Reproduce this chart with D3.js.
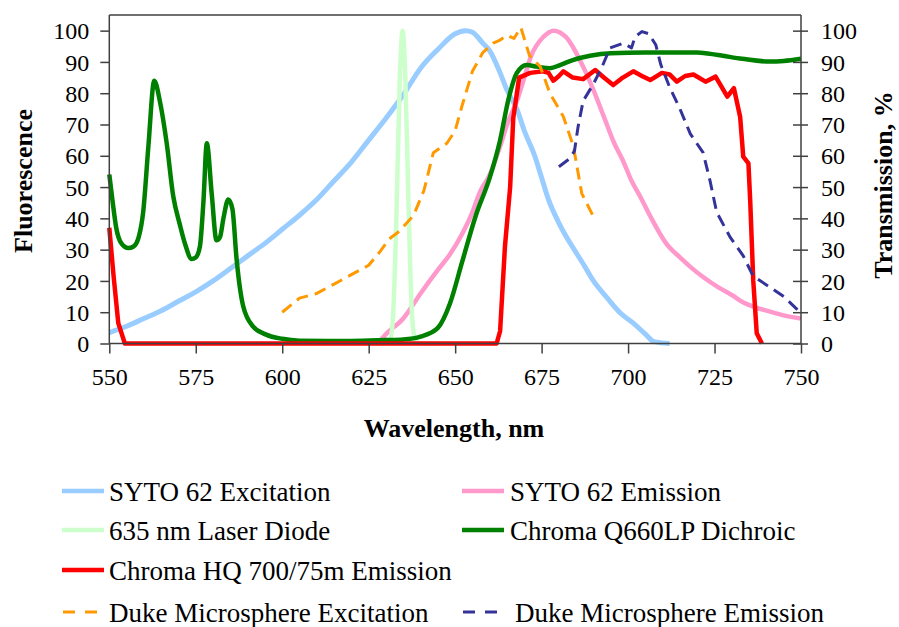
<!DOCTYPE html>
<html>
<head>
<meta charset="utf-8">
<script src="https://cdn.jsdelivr.net/npm/d3@7"></script>
<style>
  html, body { margin: 0; padding: 0; background: #fff; }
  svg { display: block; font-family: "Liberation Serif", "Times New Roman", serif; }
</style>
</head>
<body>
<svg id="chart" width="899" height="627"></svg>
<script>
// Wavelength (nm) / value (%) pairs for each spectrum
const sytoExcitation = [
  [550,3.5],[555,5.5],[560,8],[565,10.5],[570,13.5],[575,16.5],[580,20],[585,24],[590,28],
  [595,32],[600,36.5],[605,41],[610,46],[615,52],[620,58],[625,65],[630,72],[635,79.5],
  [640,88],[645,94],[650,99],[653,100],[655,99.5],[658,96],[660,93.5],[663,86.5],[665,81],
  [668,74.5],[670,68],[673,60],[675,53],[677,46],[680,38.5],[685,29],[687,25.5],[690,20],
  [694,14.5],[698,9.5],[701.5,6.5],[705,3],[707.5,0.6],[712,0]
];
const sytoEmission = [
  [628,0.5],[630,3],[635,8],[640,16],[645,23.5],[648.5,28.5],[652,35],[655,42],[657,48],
  [660,54],[663,63],[665,70],[668,78],[670,85],[672,92],[675.5,98],[678.5,100],[682,98],
  [687,88.5],[690,81],[693,72.5],[696,64],[698.5,58.5],[701,52],[703.5,47],[706.5,40.5],
  [711,32],[715,27.5],[718,24.5],[722,21],[726,18],[730,15.5],[733.5,13],[737,11.5],
  [741,10.2],[745,9],[750,8]
];
const laserDiode = [
  [625,0],[630,0],[631,0.5],[632,8],[633,40],[634,85],[634.8,100],[635.6,85],[636.5,45],
  [637.5,10],[638.5,1],[640,0],[645,0]
];
const dichroic = [
  [550,54],[551,45],[552,37],[553.5,32],[555.5,30.5],[557,31],[558.5,34],[559.8,42],
  [561.3,63],[563,84],[564.7,77],[566.6,64],[568.5,47],[570.4,38],[572,31.5],[573.8,27],
  [575,27.5],[576.2,31],[577.2,45],[578.2,64],[579.6,48],[581,33],[582,34],[583,40],
  [584.4,46],[585.6,43],[586.8,27],[588.7,12],[591.6,5.4],[595,3],[600,1.5],[605,0.9],
  [620,0.8],[630,1.1],[635,1.3],[640,2.2],[645,5],[648.5,12.8],[652,26],[656,41],
  [660,53],[663,65],[665.4,78],[667.8,86.4],[670.7,89],[673.6,88.5],[677.4,88],[680.3,89],
  [684,90.6],[689,92],[695,92.8],[705,93],[720,93],[726,92.2],[733,91],[741,90.1],
  [745,90.3],[750,91]
];
const emissionFilter = [
  [550,37],[551.2,22],[552.6,6.5],[554.5,0],[600,0],[650,0],[662,0],[663,4],[664.4,31],
  [665.9,50],[666.8,72],[668.5,85],[671.7,86.5],[675.5,87],[677,86.5],[678.4,84],
  [680,85.5],[681.3,87],[684,85],[687,84.5],[690.5,87.4],[693,85],[695.7,82.6],[698.5,85],
  [701.5,87],[704,85.5],[706.4,84.2],[709.8,86.5],[712,86],[714.1,83.7],[716.5,85.5],
  [718.9,86],[722.4,83.7],[725.3,85.3],[728.7,78.9],[730.6,81.6],[732.4,72.5],[733.3,59.7],
  [734.8,57.6],[735.3,46],[736.2,20],[737.2,3.3],[738.7,0]
];
const dukeExcitation = [
  [600,10],[605,14.5],[610,16],[615,19],[620,22],[625,25],[628,29],[631,33.5],[634,36],
  [638,41],[641,49],[643.7,61],[647.6,64],[650,68],[652,76],[655,87],[658,93],[661,96],
  [663,97],[665,98.5],[667,97.5],[669,101],[671.5,92],[674.6,88.5],[677.4,80],[681.3,72.5],
  [684.2,63],[686.6,48],[690,40.5]
];
const dukeEmission = [
  [680,56.5],[683,59],[684.5,61.5],[685.5,69],[687,77.5],[690,83],[692.5,88.5],[694.8,94.5],
  [698.6,96],[701,94.5],[702,98],[704,99.7],[706,99],[708,95.5],[709.5,89],[712,82],
  [715,75],[718,67],[721.7,61],[723.7,52],[725.6,42],[729.5,34],[733.3,28],[736.2,21.5],
  [741,18],[745,15],[748.8,11],[750,9.7]
];

const xTicks = [550, 575, 600, 625, 650, 675, 700, 725, 750];
const yTicks = [0, 10, 20, 30, 40, 50, 60, 70, 80, 90, 100];

const seriesNames = [
  "SYTO 62 Excitation", "SYTO 62 Emission", "635 nm Laser Diode",
  "Chroma Q660LP Dichroic", "Chroma HQ 700/75m Emission",
  "Duke Microsphere Excitation", "Duke Microsphere Emission"
];

const series = [
  { name: seriesNames[0], data: sytoExcitation, color: "#99ccff", width: 5,   dash: null,   smooth: true },
  { name: seriesNames[1], data: sytoEmission,   color: "#ff99cc", width: 4.5, dash: null,   smooth: true },
  { name: seriesNames[2], data: laserDiode,     color: "#ccffcc", width: 4.5, dash: null,   smooth: true },
  { name: seriesNames[3], data: dichroic,       color: "#008000", width: 4.5, dash: null,   smooth: true },
  { name: seriesNames[4], data: emissionFilter, color: "#ff0000", width: 4.5, dash: null,   smooth: false },
  { name: seriesNames[5], data: dukeExcitation, color: "#ff9900", width: 3,   dash: "12,7", smooth: false },
  { name: seriesNames[6], data: dukeEmission,   color: "#333399", width: 3,   dash: "12,7", smooth: false }
];

const svg = d3.select("#chart");
const plotLeft = 109.3, plotRight = 801, plotTop = 15, plotBottom = 343.5;

const x = d3.scaleLinear().domain([550, 750]).range([plotLeft, plotRight]);
const y = d3.scaleLinear().domain([0, 105]).range([plotBottom, plotTop]);
const axisColor = "#404040";

// plot frame top edge
svg.append("line")
  .attr("x1", plotLeft).attr("x2", plotRight).attr("y1", plotTop).attr("y2", plotTop)
  .attr("stroke", axisColor).attr("stroke-width", 1.5);

// curves
const linearLine = d3.line().x(d => x(d[0])).y(d => y(d[1]));
const smoothLine = d3.line().x(d => x(d[0])).y(d => y(d[1])).curve(d3.curveMonotoneX);
const plot = svg.append("g");
series.forEach(s => {
  plot.append("path")
    .datum(s.data)
    .attr("d", s.smooth ? smoothLine : linearLine)
    .attr("fill", "none")
    .attr("stroke", s.color)
    .attr("stroke-width", s.width)
    .attr("stroke-linejoin", "round")
    .attr("stroke-dasharray", s.dash);
});

function styleAxis(g) {
  g.select(".domain").attr("stroke", axisColor).attr("stroke-width", 1.5);
  g.selectAll(".tick line").attr("stroke", axisColor).attr("stroke-width", 1.5);
  g.selectAll("text").attr("fill", "#000")
    .style("font-family", "'Liberation Serif', 'Times New Roman', serif")
    .style("font-size", "24px");
}

// left axis
svg.append("g")
  .attr("transform", `translate(${plotLeft},0)`)
  .call(d3.axisLeft(y).tickValues(yTicks).tickSize(9).tickPadding(11).tickSizeOuter(0))
  .call(styleAxis)
  .call(g => g.select(".domain").attr("d", `M0,${plotTop}V${plotBottom}`))
  .call(g => g.selectAll("text").attr("dy", "0.34em"));

// right axis, ticks crossing the line
svg.append("g")
  .attr("transform", `translate(${plotRight},0)`)
  .call(d3.axisRight(y).tickValues(yTicks).tickSize(7).tickPadding(13).tickSizeOuter(0))
  .call(styleAxis)
  .call(g => g.select(".domain").attr("d", `M0,${plotTop}V${plotBottom}`))
  .call(g => g.selectAll(".tick line").attr("x1", -8).attr("x2", 7))
  .call(g => g.selectAll("text").attr("dy", "0.34em"));

// bottom axis
svg.append("g")
  .attr("transform", `translate(0,${plotBottom})`)
  .call(d3.axisBottom(x).tickValues(xTicks).tickSize(10).tickPadding(14).tickSizeOuter(0))
  .call(styleAxis)
  .call(g => g.select(".domain").attr("d", `M${plotLeft},0H${plotRight}`));

// axis titles
svg.append("text")
  .attr("x", 454).attr("y", 437)
  .attr("text-anchor", "middle")
  .attr("font-weight", "bold").attr("font-size", 26)
  .text("Wavelength, nm");

svg.append("text")
  .attr("transform", "translate(32,181) rotate(-90)")
  .attr("text-anchor", "middle")
  .attr("font-weight", "bold").attr("font-size", 26)
  .text("Fluorescence");

svg.append("text")
  .attr("transform", "translate(892,185) rotate(-90)")
  .attr("text-anchor", "middle")
  .attr("font-weight", "bold").attr("font-size", 26)
  .text("Transmission, %");

// legend
const legendItems = [
  { s: series[0], lx: 62,  tx: 109, y: 491 },
  { s: series[1], lx: 462, tx: 510, y: 491 },
  { s: series[2], lx: 62,  tx: 109, y: 530 },
  { s: series[3], lx: 462, tx: 510, y: 530 },
  { s: series[4], lx: 62,  tx: 109, y: 570 },
  { s: series[5], lx: 63,  tx: 109, y: 612 },
  { s: series[6], lx: 463, tx: 515, y: 612 }
];
const legend = svg.append("g");
legendItems.forEach(it => {
  const dashed = !!it.s.dash;
  legend.append("line")
    .attr("x1", it.lx).attr("x2", dashed ? it.lx + 34 : it.lx + 42)
    .attr("y1", it.y).attr("y2", it.y)
    .attr("stroke", it.s.color)
    .attr("stroke-width", dashed ? 3 : 4.5)
    .attr("stroke-dasharray", dashed ? "12,10" : null);
  legend.append("text")
    .attr("x", it.tx).attr("y", it.y + 10)
    .attr("font-size", 27)
    .attr("fill", "#000")
    .text(it.s.name);
});
</script>
</body>
</html>
